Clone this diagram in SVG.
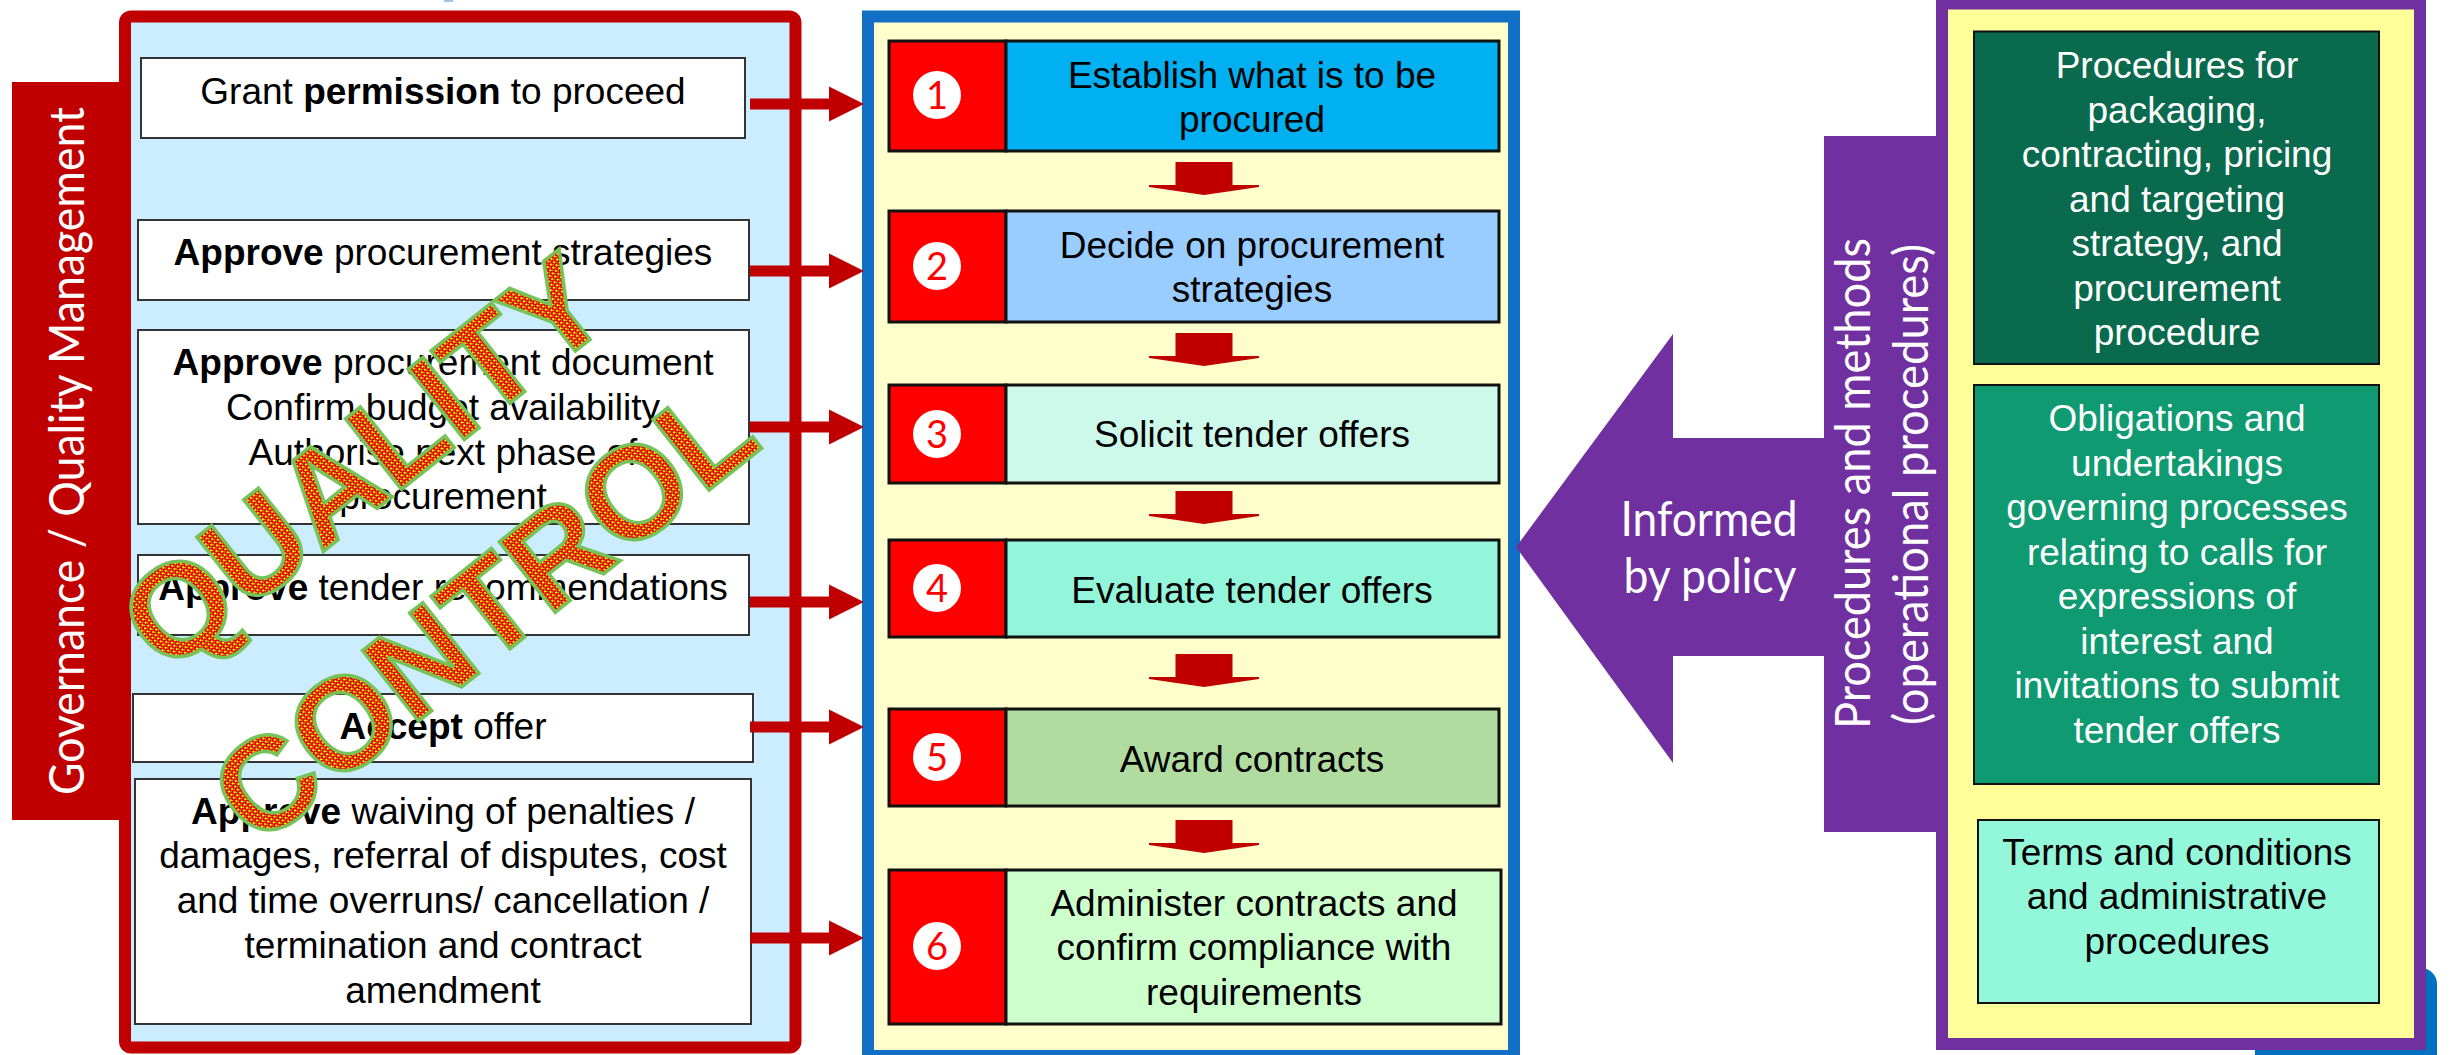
<svg xmlns="http://www.w3.org/2000/svg" xmlns:xlink="http://www.w3.org/1999/xlink" width="2450" height="1055" viewBox="0 0 2450 1055">
<defs>
<style>
.t{font-family:"Liberation Sans",Arial,sans-serif;font-size:37px;text-anchor:middle;fill:#000}
.w{fill:#fff}
.b{font-weight:bold}
.cal{font-family:Lato,"Open Sans",sans-serif;font-size:48px;fill:#fff;text-anchor:middle}
.lbox{fill:#fff;stroke:#333;stroke-width:2}
.cell{fill:#f00;stroke:#111;stroke-width:3}
.sbox{stroke:#111;stroke-width:3}
.circ{fill:#fff}
.num{font-family:Lato,"Open Sans",sans-serif;font-size:38px;fill:#f00;text-anchor:middle}
.arr{fill:#C00000}
.wm{font-family:"Liberation Sans",Arial,sans-serif;font-size:131px;font-weight:bold;text-anchor:middle;fill:url(#chk);stroke:#77C35A;stroke-width:3.5}
</style>
<pattern id="chk" width="4" height="4" patternUnits="userSpaceOnUse">
<rect width="4" height="4" fill="#D80A08"/>
<rect width="2" height="2" fill="#FFF000"/>
<rect x="2" y="2" width="1" height="1" fill="#FFF000"/>
</pattern>
<path id="harrow" d="M0,-5.5 H79 V-17.5 L114,0 L79,17.5 V5.5 H0 Z"/>
<path id="darrow" d="M-28.5,0 H28.5 V23 H55 V25 L0,33 L-55,25 V23 H-28.5 Z"/>
</defs>
<rect width="2450" height="1055" fill="#fff"/>
<rect x="444" y="0" width="9" height="2" fill="#9DC3E6"/>

<!-- Governance frame -->
<g id="governance">
<rect x="12" y="82" width="118" height="738" fill="#C00000"/>
<rect x="125" y="16.5" width="670.5" height="1031" rx="6" fill="#CCECFF" stroke="#C00000" stroke-width="12"/>
<text class="cal" transform="translate(84,451) rotate(-90)" textLength="688" lengthAdjust="spacingAndGlyphs">Governance / Quality Management</text>
</g>

<g id="gov-1">
<rect class="lbox" x="141" y="58" width="604" height="80"/>
<text class="t" x="443" y="103.5">Grant <tspan class="b">permission</tspan> to proceed</text>
</g>
<g id="gov-2">
<rect class="lbox" x="138" y="220" width="611" height="80"/>
<text class="t" x="443" y="265"><tspan class="b">Approve</tspan> procurement strategies</text>
</g>
<g id="gov-3">
<rect class="lbox" x="138" y="330" width="611" height="194"/>
<text class="t" x="443" y="375"><tspan class="b">Approve</tspan> procurement document</text>
<text class="t" x="443" y="420">Confirm budget availability</text>
<text class="t" x="443" y="464.5">Authorise next phase of</text>
<text class="t" x="443" y="508.5">procurement</text>
</g>
<g id="gov-4">
<rect class="lbox" x="138" y="555" width="611" height="80"/>
<text class="t" x="443" y="600"><tspan class="b">Approve</tspan> tender recommendations</text>
</g>
<g id="gov-5">
<rect class="lbox" x="133" y="694" width="620" height="68"/>
<text class="t" x="443" y="739"><tspan class="b">Accept</tspan> offer</text>
</g>
<g id="gov-6">
<rect class="lbox" x="135" y="779" width="616" height="245"/>
<text class="t" x="443" y="824"><tspan class="b">Approve</tspan> waiving of penalties /</text>
<text class="t" x="443" y="868">damages, referral of disputes, cost</text>
<text class="t" x="443" y="913">and time overruns/ cancellation /</text>
<text class="t" x="443" y="958">termination and contract</text>
<text class="t" x="443" y="1002.5">amendment</text>
</g>

<!-- Process frame -->
<g id="process">
<rect x="868" y="16.5" width="646" height="1039.5" fill="#FFFFCC" stroke="#1170C6" stroke-width="12"/>
</g>
<g id="step-1">
<rect class="cell" x="889" y="41" width="117" height="110"/>
<rect class="sbox" x="1006" y="41" width="493" height="110" fill="#00B0F0"/>
<circle class="circ" cx="937" cy="95" r="24"/>
<text class="num" x="937" y="109">1</text>
<text class="t" x="1252" y="88">Establish what is to be</text>
<text class="t" x="1252" y="131.5">procured</text>
</g>
<g id="step-2">
<rect class="cell" x="889" y="211" width="117" height="111"/>
<rect class="sbox" x="1006" y="211" width="493" height="111" fill="#99CCFF"/>
<circle class="circ" cx="937" cy="266" r="24"/>
<text class="num" x="937" y="280">2</text>
<text class="t" x="1252" y="258">Decide on procurement</text>
<text class="t" x="1252" y="301.5">strategies</text>
</g>
<g id="step-3">
<rect class="cell" x="889" y="385" width="117" height="98"/>
<rect class="sbox" x="1006" y="385" width="493" height="98" fill="#CCF9EA"/>
<circle class="circ" cx="937" cy="434" r="24"/>
<text class="num" x="937" y="448">3</text>
<text class="t" x="1252" y="447">Solicit tender offers</text>
</g>
<g id="step-4">
<rect class="cell" x="889" y="540" width="117" height="97"/>
<rect class="sbox" x="1006" y="540" width="493" height="97" fill="#93F5D9"/>
<circle class="circ" cx="937" cy="588" r="24"/>
<text class="num" x="937" y="602">4</text>
<text class="t" x="1252" y="602.5">Evaluate tender offers</text>
</g>
<g id="step-5">
<rect class="cell" x="889" y="709" width="117" height="97"/>
<rect class="sbox" x="1006" y="709" width="493" height="97" fill="#B1DCA0"/>
<circle class="circ" cx="937" cy="757" r="24"/>
<text class="num" x="937" y="771">5</text>
<text class="t" x="1252" y="772">Award contracts</text>
</g>
<g id="step-6">
<rect class="cell" x="889" y="870" width="117" height="154"/>
<rect class="sbox" x="1006" y="870" width="495" height="154" fill="#CCFFCC"/>
<circle class="circ" cx="937" cy="946" r="24"/>
<text class="num" x="937" y="960">6</text>
<text class="t" x="1254" y="916">Administer contracts and</text>
<text class="t" x="1254" y="960">confirm compliance with</text>
<text class="t" x="1254" y="1004.5">requirements</text>
</g>

<!-- Procedures frame -->
<g id="procedures">
<rect x="2255" y="968" width="182" height="110" rx="16" fill="#0070C0"/>
<rect x="1942" y="3.5" width="478" height="1040.5" fill="#FFFF99" stroke="#7030A0" stroke-width="12"/>
</g>
<g id="policy-arrow">
<polygon points="1516,547 1673,334 1673,438 1824,438 1824,136 1942,136 1942,832 1824,832 1824,656 1673,656 1673,763" fill="#7030A0"/>
<text class="cal" x="1709" y="536" textLength="177" lengthAdjust="spacingAndGlyphs">Informed</text>
<text class="cal" x="1710" y="593" textLength="173" lengthAdjust="spacingAndGlyphs">by policy</text>
<text class="cal" transform="translate(1870,483.5) rotate(-90)" textLength="491" lengthAdjust="spacingAndGlyphs">Procedures and methods</text>
<text class="cal" transform="translate(1928,484.5) rotate(-90)" textLength="481" lengthAdjust="spacingAndGlyphs">(operational procedures)</text>
</g>
<g id="proc-1">
<rect x="1974" y="31.5" width="405" height="332.5" fill="#0A6A4D" stroke="#111" stroke-width="2"/>
<text class="t w" x="2177" y="78">Procedures for</text>
<text class="t w" x="2177" y="122.5">packaging,</text>
<text class="t w" x="2177" y="167">contracting, pricing</text>
<text class="t w" x="2177" y="211.5">and targeting</text>
<text class="t w" x="2177" y="256">strategy, and</text>
<text class="t w" x="2177" y="300.5">procurement</text>
<text class="t w" x="2177" y="345">procedure</text>
</g>
<g id="proc-2">
<rect x="1974" y="385" width="405" height="399" fill="#0F9A72" stroke="#111" stroke-width="2"/>
<text class="t w" x="2177" y="431">Obligations and</text>
<text class="t w" x="2177" y="475.5">undertakings</text>
<text class="t w" x="2177" y="520">governing processes</text>
<text class="t w" x="2177" y="564.5">relating to calls for</text>
<text class="t w" x="2177" y="609">expressions of</text>
<text class="t w" x="2177" y="653.5">interest and</text>
<text class="t w" x="2177" y="698">invitations to submit</text>
<text class="t w" x="2177" y="742.5">tender offers</text>
</g>
<g id="proc-3">
<rect x="1978" y="820" width="401" height="183" fill="#93F7DA" stroke="#111" stroke-width="2"/>
<text class="t" x="2177" y="864.5">Terms and conditions</text>
<text class="t" x="2177" y="909">and administrative</text>
<text class="t" x="2177" y="953.5">procedures</text>
</g>

<!-- Connectors -->
<g id="connectors" class="arr">
<use xlink:href="#harrow" x="750" y="104"/>
<use xlink:href="#harrow" x="750" y="271"/>
<use xlink:href="#harrow" x="750" y="427"/>
<use xlink:href="#harrow" x="750" y="602"/>
<use xlink:href="#harrow" x="750" y="727"/>
<use xlink:href="#harrow" x="750" y="938"/>
<use xlink:href="#darrow" x="1204" y="162"/>
<use xlink:href="#darrow" x="1204" y="333"/>
<use xlink:href="#darrow" x="1204" y="491"/>
<use xlink:href="#darrow" x="1204" y="654"/>
<use xlink:href="#darrow" x="1204" y="820"/>
</g>

<!-- Watermark -->
<g id="watermark" transform="translate(392,497) rotate(-38.5)">
<text class="wm" x="0" y="0">QUALITY</text>
<text class="wm" x="0" y="192">CONTROL</text>
</g>
</svg>
